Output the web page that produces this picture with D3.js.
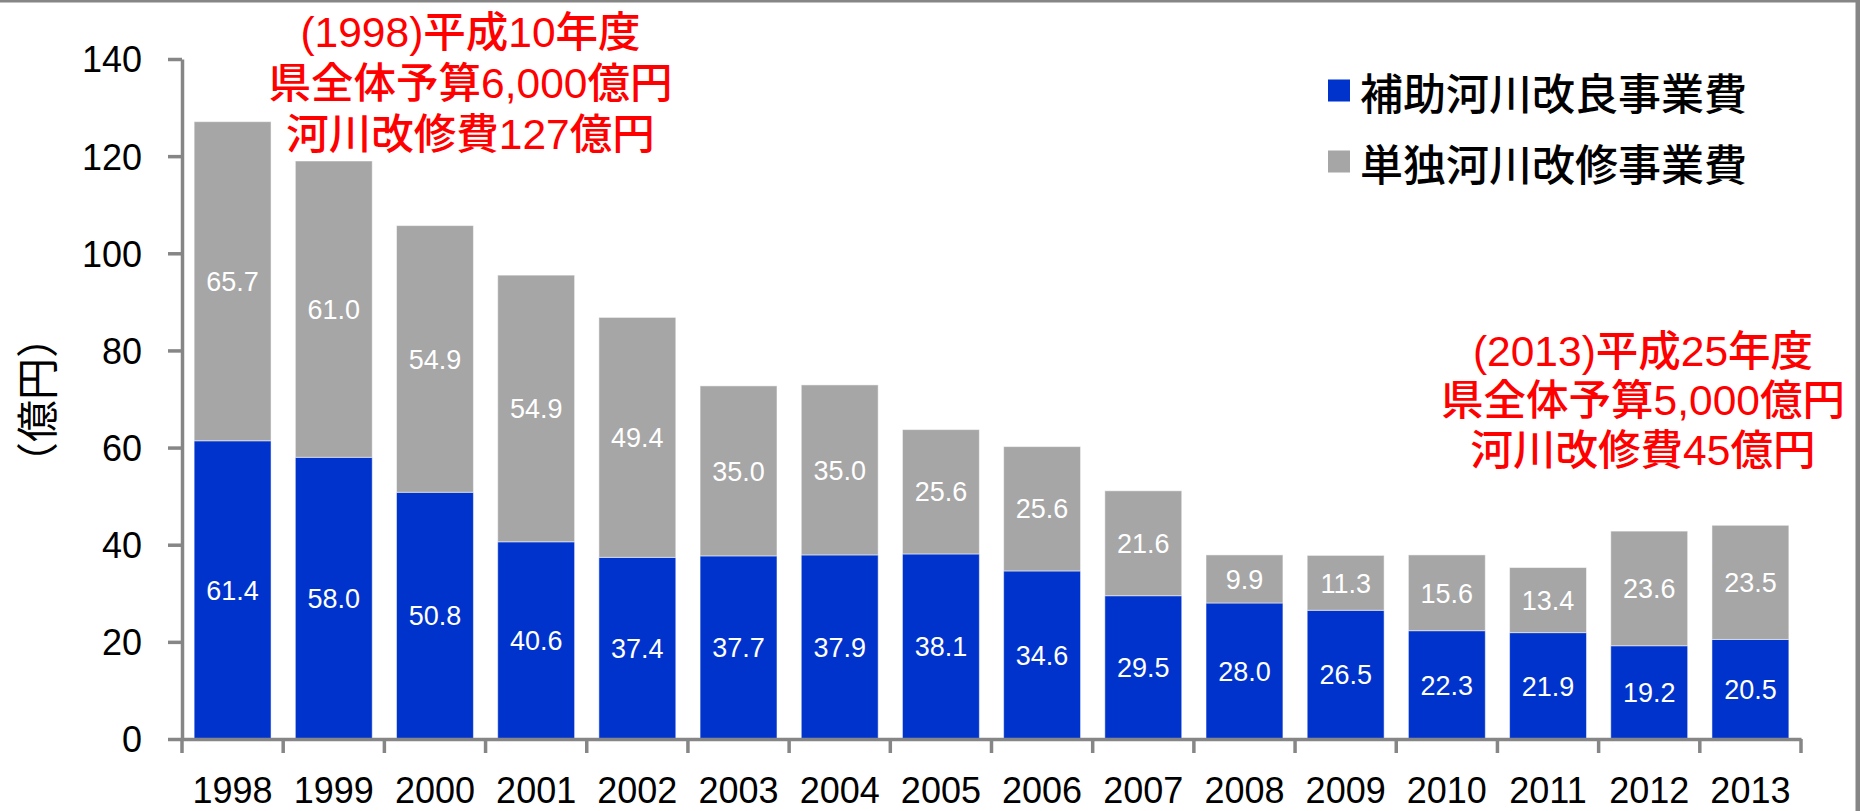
<!DOCTYPE html>
<html>
<head>
<meta charset="utf-8">
<script src="https://cdn.jsdelivr.net/npm/d3@7"></script>
<style>
  html, body { margin: 0; padding: 0; background: #fff; }
  svg { display: block; }
</style>
</head>
<body>
<svg id="chart" width="1860" height="811"></svg>
<script>
// ---- data ----
const years = ["1998","1999","2000","2001","2002","2003","2004","2005","2006","2007","2008","2009","2010","2011","2012","2013"];
const hojo = [61.4, 58.0, 50.8, 40.6, 37.4, 37.7, 37.9, 38.1, 34.6, 29.5, 28.0, 26.5, 22.3, 21.9, 19.2, 20.5];
const tandoku = [65.7, 61.0, 54.9, 54.9, 49.4, 35.0, 35.0, 25.6, 25.6, 21.6, 9.9, 11.3, 15.6, 13.4, 23.6, 23.5];
const yTicks = [0, 20, 40, 60, 80, 100, 120, 140];
const seriesNames = ["補助河川改良事業費", "単独河川改修事業費"];
const yAxisTitle = "（億円）";
const noteLeft = ["(1998)平成10年度", "県全体予算6,000億円", "河川改修費127億円"];
const noteRight = ["(2013)平成25年度", "県全体予算5,000億円", "河川改修費45億円"];

(function () {
// ---- layout ----
const W = 1860, H = 811;
const pLeft = 182, pRight = 1801, pTop = 59, pBottom = 739;
const BLUE = "#0033CC", GRAY = "#A6A6A6", AXIS = "#868686", RED = "#FF0000";
const LATIN = "'Liberation Sans', Arial, sans-serif";
const CJK = "'Liberation Sans', 'Noto Sans CJK JP', sans-serif";

const svg = d3.select("#chart");

const x = d3.scaleBand().domain(years).range([pLeft, pRight]).paddingInner(0.24).paddingOuter(0.12);
const y = d3.scaleLinear().domain([0, 140]).range([pBottom, pTop]);

const rows = years.map((yr, i) => ({ year: yr, a: hojo[i], b: tandoku[i] }));
const stack = d3.stack().keys(["a", "b"])(rows);
const colors = [BLUE, GRAY];

// frame lines (top and right)
svg.append("line").attr("x1", 0).attr("x2", W).attr("y1", 1).attr("y2", 1)
  .attr("stroke", AXIS).attr("stroke-width", 3);
svg.append("line").attr("x1", W - 2).attr("x2", W - 2).attr("y1", 0).attr("y2", H)
  .attr("stroke", AXIS).attr("stroke-width", 5);

// bars
stack.forEach((layer, li) => {
  const g = svg.append("g");
  g.selectAll("rect").data(layer).enter().append("rect")
    .attr("x", d => x(d.data.year))
    .attr("width", x.bandwidth())
    .attr("y", d => y(d[1]))
    .attr("height", d => y(d[0]) - y(d[1]))
    .attr("fill", colors[li])
    .attr("stroke", "#ffffff").attr("stroke-opacity", 0.5).attr("stroke-width", 1);
  g.selectAll("text").data(layer).enter().append("text")
    .attr("x", d => x(d.data.year) + x.bandwidth() / 2)
    .attr("y", d => (y(d[0]) + y(d[1])) / 2)
    .attr("dy", "0.36em")
    .attr("text-anchor", "middle")
    .attr("font-family", LATIN).attr("font-size", 27)
    .attr("fill", "#ffffff")
    .text(d => (d[1] - d[0]).toFixed(1));
});

// y axis
const yAxis = d3.axisLeft(y).tickValues(yTicks).tickSize(14).tickSizeOuter(0).tickPadding(26);
const gy = svg.append("g").attr("transform", `translate(${pLeft},0)`).call(yAxis);
gy.select(".domain").attr("stroke", AXIS).attr("stroke-width", 3.5);
gy.selectAll(".tick line").attr("stroke", AXIS).attr("stroke-width", 3.5);
gy.selectAll(".tick text").attr("font-family", LATIN).attr("font-size", 36).attr("fill", "#000").attr("dy", "0.36em");

// x axis
const xAxis = d3.axisBottom(x).tickSize(0).tickSizeOuter(0).tickPadding(0);
const gx = svg.append("g").attr("transform", `translate(0,${pBottom})`).call(xAxis);
gx.select(".domain").attr("stroke", AXIS).attr("stroke-width", 3.5);
gx.selectAll(".tick text").attr("font-family", LATIN).attr("font-size", 36).attr("fill", "#000")
  .attr("y", 64).attr("dy", 0);
// category divider ticks
const dividers = years.map(yr => x(yr) + x.bandwidth() / 2 - x.step() / 2)
  .concat([x(years[years.length - 1]) + x.bandwidth() / 2 + x.step() / 2]);
svg.append("g").selectAll("line").data(dividers).enter().append("line")
  .attr("x1", d => d).attr("x2", d => d)
  .attr("y1", pBottom).attr("y2", pBottom + 14)
  .attr("stroke", AXIS).attr("stroke-width", 3.5);

// y axis title
svg.append("text")
  .attr("transform", "translate(34,400) rotate(-90)")
  .attr("text-anchor", "middle").attr("dominant-baseline", "central")
  .attr("font-family", "'Noto Sans CJK JP', sans-serif").attr("font-size", 42).attr("fill", "#000")
  .text(yAxisTitle);

// legend
const legY = [90.5, 161.5];
seriesNames.forEach((name, i) => {
  svg.append("rect").attr("x", 1328).attr("y", legY[i] - 11).attr("width", 22).attr("height", 22)
    .attr("fill", colors[i]);
  svg.append("text").attr("x", 1360).attr("y", legY[i])
    .attr("dominant-baseline", "central")
    .attr("font-family", "'Noto Sans CJK JP', sans-serif").attr("font-size", 43)
    .attr("font-weight", 500).attr("fill", "#000")
    .text(name);
});

// annotations
function note(lines, cx, ys) {
  lines.forEach((t, i) => {
    svg.append("text").attr("x", cx).attr("y", ys[i])
      .attr("text-anchor", "middle").attr("dominant-baseline", "central")
      .attr("font-family", CJK).attr("font-size", 42.5).attr("font-weight", 500).attr("fill", RED)
      .text(t);
  });
}
note(noteLeft, 470.5, [32.5, 83.5, 134]);
note(noteRight, 1643, [351.5, 400.5, 450]);
})();
</script>
</body>
</html>
